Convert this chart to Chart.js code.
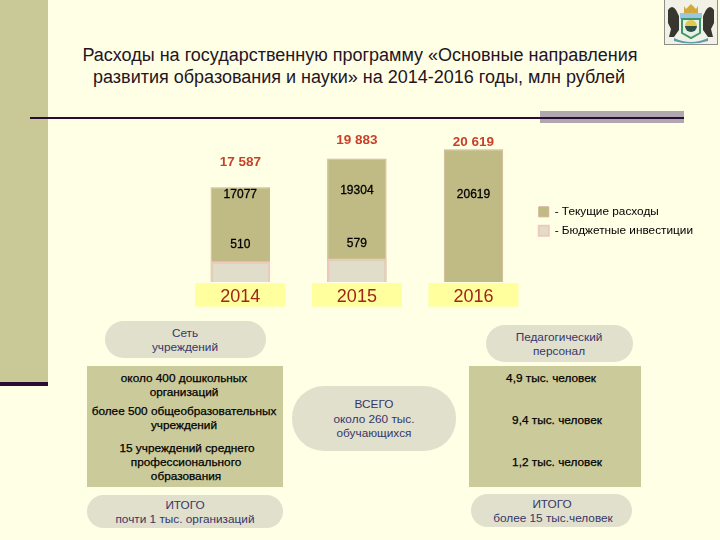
<!DOCTYPE html>
<html lang="ru"><head><meta charset="utf-8">
<script src="https://cdn.jsdelivr.net/npm/chart.js@4"></script>
<style>
html,body{margin:0;padding:0;background:#FFFFE6;width:720px;height:540px;overflow:hidden;font-family:"Liberation Sans",Arial,sans-serif}
.a{position:absolute}
.t{position:absolute;white-space:nowrap;transform:translate(-50%,calc(-50% + 1px));font-size:11.8px;line-height:1}
.pill{color:#36366a}.box{color:#000;-webkit-text-stroke:.25px #000}
.title{font-size:18px;color:#241424;transform:translate(-50%,-50%);position:absolute;white-space:nowrap}
#wrap{position:absolute;left:182px;top:110px;width:521px;height:213px}
</style></head><body>
<div class="a" style="left:0;top:0;width:48px;height:382px;background:#C9C998"></div>
<div class="a" style="left:0;top:382px;width:48px;height:4px;background:#2B0A33"></div>
<div class="a" style="left:540px;top:111px;width:144px;height:12px;background:#AFA8AE"></div>
<div class="a" style="left:30px;top:117px;width:654px;height:2px;background:#2B0A33"></div>
<div class="title" style="left:360px;top:55px">Расходы на государственную программу «Основные направления</div>
<div class="title" style="left:359px;top:77px">развития образования и науки» на 2014-2016 годы, млн рублей</div>

<svg class="a" style="left:664px;top:0" width="54" height="45" viewBox="0 0 54 45">
<rect width="54" height="45" fill="#8f8f88"/><rect x="1" y="0" width="52" height="44" fill="#f1f1e6"/>
<path d="M4 10q4-6 8 0l3 6v14l-5 7H5l2-8-3-6zM50 10q-4-6-8 0l-3 6v14l5 7h5l-2-8 3-6z" fill="#37372f"/>
<path d="M20 6l2 3 5-5 5 5 2-3v7H20z" fill="#d3a93c"/>
<rect x="16" y="13" width="22" height="6" fill="#9cc5df"/>
<path d="M18 19h18v14l-9 5-9-5z" fill="#e8f0e6" stroke="#3c9a6a" stroke-width="2"/>
<path d="M21 26a6 6 0 0 1 12 0z" fill="#e2c94c"/><path d="M21 26h12a6 6 0 0 1-12 0z" fill="#2e4f46"/>
<path d="M10 38q17 8 34 0v3q-17 5-34 0z" fill="#5d9fa8"/>
</svg>

<div class="a" style="left:105px;top:321px;width:161px;height:37px;border-radius:19px;background:#E0E0CC"></div>
<div class="a" style="left:87px;top:366px;width:196px;height:121px;background:#CACA9A"></div>
<div class="a" style="left:87px;top:495px;width:196px;height:33px;border-radius:17px;background:#E0E0CC"></div>
<div class="a" style="left:292px;top:386px;width:164px;height:65px;border-radius:32px;background:#E0E0CC"></div>
<div class="a" style="left:486px;top:325px;width:147px;height:37px;border-radius:19px;background:#E0E0CC"></div>
<div class="a" style="left:469px;top:366px;width:172px;height:121px;background:#CACA9A"></div>
<div class="a" style="left:471px;top:494px;width:161px;height:33px;border-radius:17px;background:#E0E0CC"></div>

<div id="wrap"><canvas id="c"></canvas></div>

<div class="t pill" style="left:185px;top:333px">Сеть</div>
<div class="t pill" style="left:185px;top:347px">учреждений</div>
<div class="t box" style="left:184px;top:378px">около 400 дошкольных</div>
<div class="t box" style="left:184px;top:392px">организаций</div>
<div class="t box" style="left:184px;top:411px">более 500 общеобразовательных</div>
<div class="t box" style="left:184px;top:425px">учреждений</div>
<div class="t box" style="left:187px;top:448px">15 учреждений среднего</div>
<div class="t box" style="left:186px;top:462px">профессионального</div>
<div class="t box" style="left:186px;top:476px">образования</div>
<div class="t pill" style="left:185px;top:505px">ИТОГО</div>
<div class="t pill" style="left:185px;top:519px">почти 1 тыс. организаций</div>
<div class="t pill" style="left:374px;top:404px">ВСЕГО</div>
<div class="t pill" style="left:374px;top:419px">около 260 тыс.</div>
<div class="t pill" style="left:374px;top:433px">обучающихся</div>
<div class="t pill" style="left:559px;top:337px">Педагогический</div>
<div class="t pill" style="left:559px;top:351px">персонал</div>
<div class="t box" style="left:551px;top:378px">4,9 тыс. человек</div>
<div class="t box" style="left:557px;top:420px">9,4 тыс. человек</div>
<div class="t box" style="left:557px;top:462px">1,2 тыс. человек</div>
<div class="t pill" style="left:552px;top:504px">ИТОГО</div>
<div class="t pill" style="left:553px;top:518px">более 15 тыс.человек</div>

<script>
const categories = ['2014', '2015', '2016'];
const totals = [17587, 19883, 20619];
const totalLabels = ['17 587', '19 883', '20 619'];
const currentSpending = [17077, 19304, 20619];
const budgetInvestment = [510, 579, 0];
const seriesNames = ['- Текущие расходы', '- Бюджетные инвестиции'];

// Label placement around the bars (pixels relative to each bar's centre / top).
const totalLift = [25, 18, 7];
const currentDrop = [8, 32, 45];
const investLift = [17, 15, 0];

const barLabels = {
  id: 'barLabels',
  afterDatasetsDraw(chart) {
    const ctx = chart.ctx;
    const tan = chart.getDatasetMeta(0).data;
    const pink = chart.getDatasetMeta(1).data;
    ctx.save();
    ctx.textAlign = 'center';
    ctx.textBaseline = 'middle';
    categories.forEach((_, i) => {
      ctx.font = 'bold 13.5px "Liberation Sans"';
      ctx.fillStyle = '#C8402A';
      ctx.fillText(totalLabels[i], tan[i].x, tan[i].y - totalLift[i]);
      ctx.font = '12px "Liberation Sans"';
      ctx.fillStyle = '#000';
      ctx.strokeStyle = '#000';
      ctx.lineWidth = 0.3;
      const t = String(currentSpending[i]);
      ctx.fillText(t, tan[i].x, tan[i].y + currentDrop[i]);
      ctx.strokeText(t, tan[i].x, tan[i].y + currentDrop[i]);
      if (budgetInvestment[i]) {
        const s = String(budgetInvestment[i]);
        ctx.fillText(s, pink[i].x, pink[i].y - investLift[i]);
        ctx.strokeText(s, pink[i].x, pink[i].y - investLift[i]);
      }
    });
    ctx.restore();
  }
};

new Chart(document.getElementById('c'), {
  type: 'bar',
  data: {
    labels: categories,
    datasets: [
      { label: seriesNames[0], data: totals, yAxisID: 'y', order: 2, grouped: false,
        backgroundColor: '#C0BA84', borderColor: '#D2B094', borderWidth: 1 },
      { label: seriesNames[1], data: budgetInvestment, yAxisID: 'y2', order: 1, grouped: false,
        backgroundColor: '#E0DECB', borderColor: '#F0C8BE', borderWidth: 2 }
    ]
  },
  options: {
    responsive: true, maintainAspectRatio: false, animation: false,
    layout: { padding: { top: 9.5, left: 0, right: 0, bottom: 0 } },
    datasets: { bar: { categoryPercentage: 1, barPercentage: 0.51 } },
    scales: {
      x: { grid: { display: false }, border: { display: false },
        afterFit(s) { s.height = 41; },
        ticks: { color: '#A0261C', font: { size: 18, family: '"Liberation Sans"' }, padding: -4,
          maxRotation: 0, showLabelBackdrop: true, backdropColor: '#FFFF9E',
          backdropPadding: { left: 25, right: 25, top: 3, bottom: -1 } } },
      y: { display: false, min: 10000, max: 23000 },
      y2: { display: false, min: 0, max: 4000 }
    },
    plugins: {
      tooltip: { enabled: false },
      legend: { position: 'right', align: 'center',
        labels: { boxWidth: 10, boxHeight: 10, padding: 7, color: '#000',
          font: { size: 11.8, family: '"Liberation Sans"' },
          sort: (a, b) => a.datasetIndex - b.datasetIndex } }
    }
  },
  plugins: [barLabels]
});
</script>
</body></html>
